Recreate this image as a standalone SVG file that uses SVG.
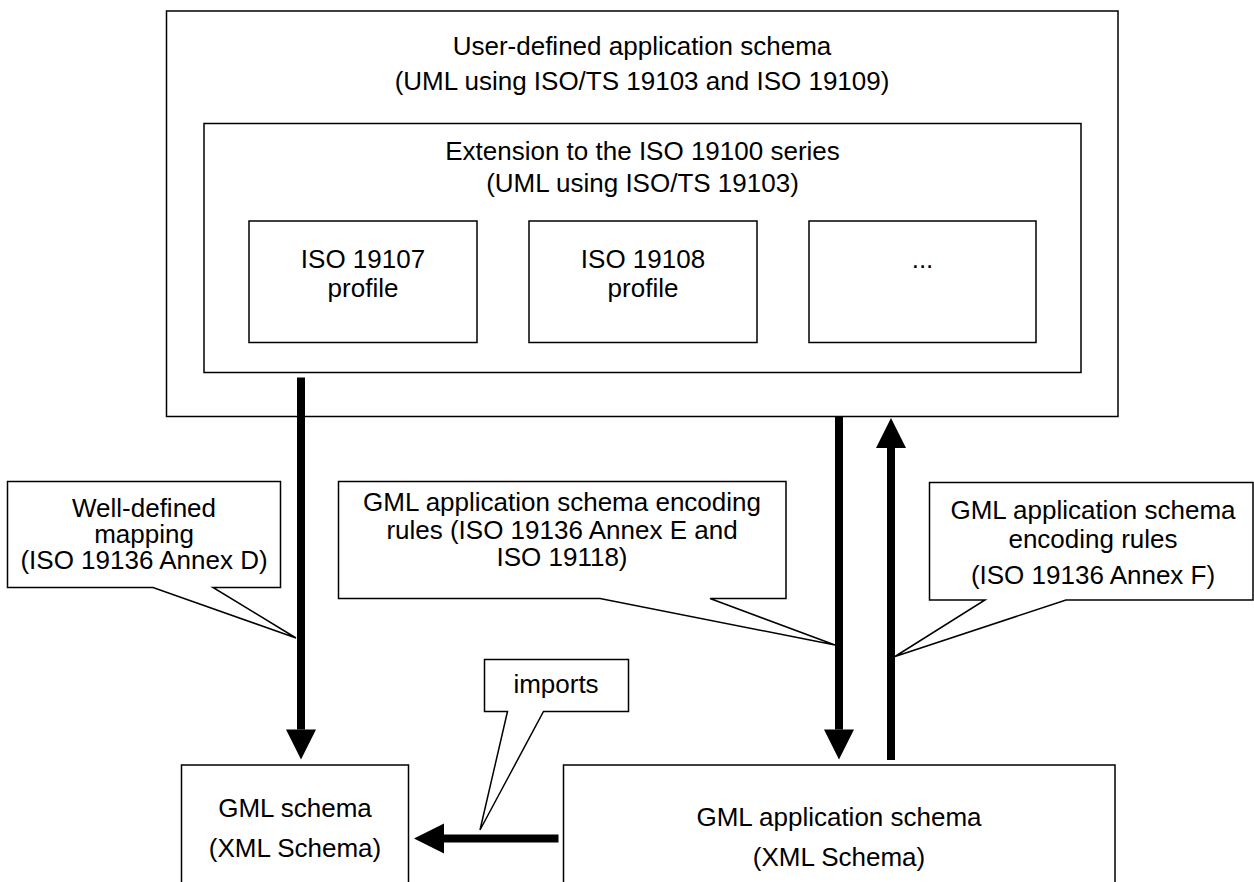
<svg xmlns="http://www.w3.org/2000/svg" width="1254" height="882" viewBox="0 0 1254 882">
  <style>
    .box { fill: #ffffff; stroke: #000000; stroke-width: 1.5; }
    .callout { fill: #ffffff; stroke: #000000; stroke-width: 1.5; stroke-linejoin: miter; }
    .t { font-family: "Liberation Sans", Arial, sans-serif; font-size: 26px; fill: #000000; text-anchor: middle; }
    .conn { stroke: #000000; stroke-width: 8; fill: none; marker-end: url(#head); }
  </style>
  <defs>
    <marker id="head" markerUnits="userSpaceOnUse" markerWidth="30" markerHeight="30" viewBox="0 0 30 30" refX="0" refY="15" orient="auto" overflow="visible">
      <path d="M0,0 L30,15 L0,30 z" fill="#000000"/>
    </marker>
  </defs>
  <rect width="1254" height="882" fill="#ffffff"/>

  <g id="user-schema">
    <rect class="box" x="166.5" y="11" width="951.5" height="405.5"/>
    <text class="t" x="642" y="55">User-defined application schema</text>
    <text class="t" x="642" y="90">(UML using ISO/TS 19103 and ISO 19109)</text>
  </g>

  <g id="extension">
    <rect class="box" x="204" y="123.5" width="877" height="249"/>
    <text class="t" x="642.5" y="160">Extension to the ISO 19100 series</text>
    <text class="t" x="642.5" y="192">(UML using ISO/TS 19103)</text>
  </g>

  <g id="profile-19107">
    <rect class="box" x="249" y="221" width="228" height="121.5"/>
    <text class="t" x="363" y="268">ISO 19107</text>
    <text class="t" x="363" y="297">profile</text>
  </g>

  <g id="profile-19108">
    <rect class="box" x="529" y="221" width="228" height="121.5"/>
    <text class="t" x="643" y="268">ISO 19108</text>
    <text class="t" x="643" y="297">profile</text>
  </g>

  <g id="profile-other">
    <rect class="box" x="809" y="221" width="227" height="121.5"/>
    <text class="t" x="922.5" y="268">...</text>
  </g>

  <g id="gml-schema">
    <rect class="box" x="181.5" y="765" width="227" height="140"/>
    <text class="t" x="295" y="817">GML schema</text>
    <text class="t" x="295" y="857">(XML Schema)</text>
  </g>

  <g id="gml-app-schema">
    <rect class="box" x="563.5" y="765" width="551.5" height="140"/>
    <text class="t" x="839" y="826">GML application schema</text>
    <text class="t" x="839" y="866">(XML Schema)</text>
  </g>

  <g id="connectors">
    <line class="conn" x1="301" y1="377.5" x2="301" y2="729.5"/>
    <line class="conn" x1="839" y1="417" x2="839" y2="729.5"/>
    <line class="conn" x1="891" y1="760" x2="891" y2="448"/>
    <line class="conn" x1="558.5" y1="838.5" x2="444" y2="838.5"/>
  </g>

  <g id="callout-mapping">
    <path class="callout" d="M7.5,481.5 H280.5 V587.5 H213 L296,638 L153,587.5 H7.5 Z"/>
    <text class="t" x="144" y="517">Well-defined</text>
    <text class="t" x="144" y="543">mapping</text>
    <text class="t" x="144" y="569">(ISO 19136 Annex D)</text>
  </g>

  <g id="callout-encoding-e">
    <path class="callout" d="M338.5,481.5 H786 V598.5 H710 L835,645 L600,598.5 H338.5 Z"/>
    <text class="t" x="562" y="511">GML application schema encoding</text>
    <text class="t" x="562" y="538.5">rules (ISO 19136 Annex E and</text>
    <text class="t" x="562" y="566">ISO 19118)</text>
  </g>

  <g id="callout-encoding-f">
    <path class="callout" d="M929.5,482.5 H1253 V600 H1066 L895,656.5 L985,600 H929.5 Z"/>
    <text class="t" x="1093" y="519">GML application schema</text>
    <text class="t" x="1093" y="548">encoding rules</text>
    <text class="t" x="1093" y="584">(ISO 19136 Annex F)</text>
  </g>

  <g id="callout-imports">
    <path class="callout" d="M484.5,659.5 H628.5 V711.5 H543.5 L480,830 L507.5,711.5 H484.5 Z"/>
    <text class="t" x="556" y="693">imports</text>
  </g>
</svg>
